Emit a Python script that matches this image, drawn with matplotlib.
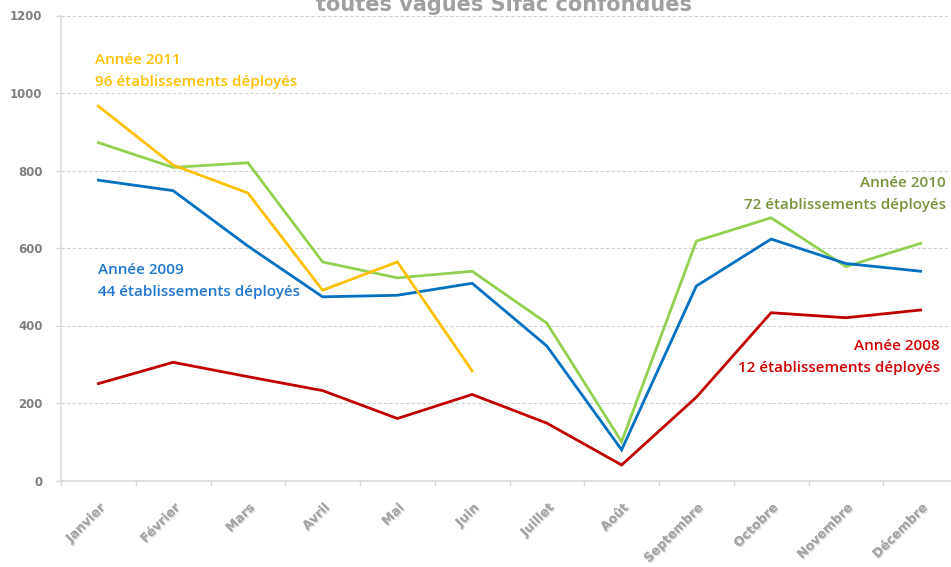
import matplotlib
matplotlib.use("Agg")
import matplotlib.pyplot as plt
import matplotlib.patheffects as pe

months = ["Janvier", "Février", "Mars", "Avril", "Mai", "Juin", "Juillet",
          "Août", "Septembre", "Octobre", "Novembre", "Décembre"]

annee_2008 = [250, 305, 268, 232, 160, 222, 148, 40, 215, 433, 420, 440]
annee_2009 = [775, 748, 605, 474, 478, 509, 347, 79, 502, 623, 560, 540]
annee_2010 = [872, 808, 820, 564, 523, 540, 406, 100, 618, 678, 552, 612]
annee_2011 = [966, 814, 742, 491, 564, 283]

y_ticks = [0, 200, 400, 600, 800, 1000, 1200]

W, H = 951, 567
fig = plt.figure(figsize=(W / 100, H / 100), dpi=100)
# axes runs a bit past the right edge, as in the cropped original
left, right, top, bottom = 61, 958, 15.5, 480.5
ax = fig.add_axes([left / W, 1 - bottom / H, (right - left) / W, (bottom - top) / H])

x = list(range(len(months)))
lw = 2.0
ax.plot(x, annee_2008, color="#C00000", lw=lw, solid_joinstyle="miter")
ax.plot(x, annee_2010, color="#92D050", lw=lw, solid_joinstyle="miter")
ax.plot(x, annee_2009, color="#0070C0", lw=lw, solid_joinstyle="miter")
ax.plot(x[:len(annee_2011)], annee_2011, color="#FFC000", lw=lw, solid_joinstyle="miter")

ax.set_xlim(-0.5, len(months) - 0.5)
ax.set_ylim(0, 1200)
ax.set_yticks(y_ticks)
ax.set_yticklabels([str(v) for v in y_ticks], fontsize=8.5, fontweight="bold",
                   color="#7F7F7F", family="DejaVu Sans")
ax.grid(axis="y", color="#D0D0D0", linestyle=(0, (3, 2)), lw=0.8)
ax.set_axisbelow(True)

ax.set_xticks(x)
ax.set_xticklabels(months, rotation=45, ha="right", va="top", rotation_mode="anchor",
                   fontsize=9, fontweight="bold", color="#A6A6A6", family="DejaVu Sans")
ax.set_xticks([i + 0.5 for i in range(-1, len(months))], minor=True)
ax.tick_params(axis="x", which="major", length=0, pad=15)
ax.tick_params(axis="x", which="minor", length=3.6, color="#D9D9D9", width=1)
ax.tick_params(axis="y", length=4.3, color="#D9D9D9", width=1, pad=9)
for lab in ax.get_xticklabels():
    lab.set_path_effects([pe.withSimplePatchShadow(offset=(1, -1), shadow_rgbFace="#E0E0E0", alpha=1),
                          pe.Normal()])

for s in ["top", "right"]:
    ax.spines[s].set_visible(False)
for s in ["left", "bottom"]:
    ax.spines[s].set_color("#D9D9D9")
    ax.spines[s].set_linewidth(1.2)

fig.text(504 / W, 1 - 11 / H, "toutes vagues Sifac confondues", ha="center", va="baseline",
         fontsize=15, fontweight="bold", color="#A0A0A0", family="DejaVu Sans")

note_kw = dict(fontsize=11, family="Open Sans", fontweight="semibold", linespacing=1.72)
fig.text(95 / W, 1 - 53 / H, "Année 2011\n96 établissements déployés",
         ha="left", va="top", color="#FFC000", **note_kw)
fig.text(98 / W, 1 - 263 / H, "Année 2009\n44 établissements déployés",
         ha="left", va="top", color="#1F77D0", **note_kw)
fig.text(946 / W, 1 - 176 / H, "Année 2010\n72 établissements déployés",
         ha="right", va="top", color="#77933C", multialignment="right", **note_kw)
fig.text(940 / W, 1 - 339 / H, "Année 2008\n12 établissements déployés",
         ha="right", va="top", color="#D00000", multialignment="right", **note_kw)

fig.savefig("out.png", dpi=100)
